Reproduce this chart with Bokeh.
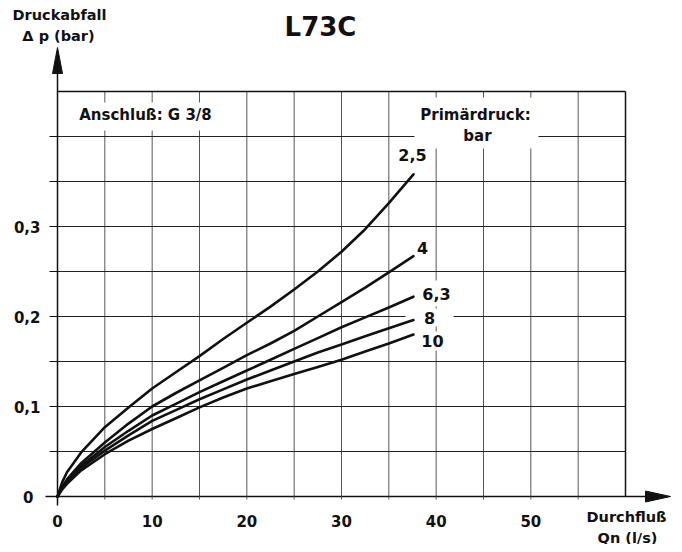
from bokeh.plotting import figure
from bokeh.models import Range1d
from bokeh.core.properties import value
from bokeh.embed import file_html
from bokeh.resources import INLINE

# ---------------- data ----------------
flow = [0, 0.5, 1, 2.5, 5, 7.5, 10, 12.5, 15, 17.5, 20, 22.5, 25, 27.5, 30, 32.5, 35, 37.6]
dp_2_5 = [0, 0.016, 0.027, 0.049, 0.077, 0.099, 0.120, 0.138, 0.156, 0.175, 0.193, 0.211, 0.230, 0.250, 0.272, 0.297, 0.326, 0.358]
dp_4   = [0, 0.011, 0.019, 0.037, 0.060, 0.081, 0.100, 0.115, 0.129, 0.143, 0.157, 0.170, 0.184, 0.200, 0.216, 0.232, 0.249, 0.267]
dp_6_3 = [0, 0.010, 0.017, 0.034, 0.055, 0.073, 0.090, 0.103, 0.116, 0.128, 0.140, 0.152, 0.164, 0.176, 0.188, 0.199, 0.210, 0.222]
dp_8   = [0, 0.009, 0.016, 0.032, 0.051, 0.068, 0.084, 0.096, 0.108, 0.119, 0.130, 0.140, 0.150, 0.160, 0.169, 0.178, 0.187, 0.196]
dp_10  = [0, 0.008, 0.014, 0.029, 0.047, 0.062, 0.075, 0.087, 0.099, 0.110, 0.120, 0.128, 0.136, 0.144, 0.152, 0.161, 0.170, 0.180]
series_names = ["2,5", "4", "6,3", "8", "10"]
series_values = [dp_2_5, dp_4, dp_6_3, dp_8, dp_10]

x_ticks = [0, 5, 10, 15, 20, 25, 30, 35, 40, 45, 50, 55, 60]
x_tick_labels = ["0", "", "10", "", "20", "", "30", "", "40", "", "50", "", ""]
y_ticks = [0, 0.05, 0.1, 0.15, 0.2, 0.25, 0.3, 0.35, 0.4, 0.45]
y_tick_labels = ["0", "", "0,1", "", "0,2", "", "0,3", "", "", ""]

title_text = "L73C"
y_title = ["Druckabfall", "\u0394 p (bar)"]
x_title = ["Durchflu\u00df", "Qn (l/s)"]
note_text = "Anschlu\u00df: G 3/8"
legend_title = ["Prim\u00e4rdruck:", "bar"]

# ---------------- layout ----------------
FONT = "DejaVu Sans"
INK = "#111111"
W, H = 674, 544
X0, X1 = 0, 60
Y0, Y1 = 0, 0.45
FL, FR, FT, FB = 57, 625, 91, 496  # plot box in page pixels
sx = (FR - FL) / (X1 - X0)
sy = (FB - FT) / (Y1 - Y0)

def dx(px):
    return X0 + (px - FL) / sx

def dy(py):
    return Y0 + (FB - py) / sy

p = figure(width=W, height=H, x_range=Range1d(dx(0), dx(W)), y_range=Range1d(dy(H), dy(0)),
           output_backend="svg", toolbar_location=None,
           x_axis_location=None, y_axis_location=None,
           min_border=0, min_border_left=0, min_border_right=0,
           min_border_top=0, min_border_bottom=0)
p.outline_line_color = None
p.background_fill_color = "white"
p.border_fill_color = "white"
p.grid.visible = False

# grid
inner_x = [t for t in x_ticks if X0 < t < X1]
inner_y = [t for t in y_ticks if Y0 < t < Y1]
p.segment(x0=inner_x, y0=[Y0] * len(inner_x), x1=inner_x, y1=[Y1] * len(inner_x),
          line_color="#555555", line_width=1)
p.segment(x0=[X0] * len(inner_y), y0=inner_y, x1=[X1] * len(inner_y), y1=inner_y,
          line_color="#222222", line_width=1)

# white boxes interrupting the grid (page pixels: left, right, top, bottom)
boxes = [(75, 222, 102, 130), (414, 538, 97, 148),
         (396, 428, 143, 165), (414, 431, 237, 258), (420, 452, 280, 306),
         (405, 453, 308, 326), (418, 446, 331, 350)]
p.quad(left=[dx(b[0]) for b in boxes], right=[dx(b[1]) for b in boxes],
       top=[dy(b[2]) for b in boxes], bottom=[dy(b[3]) for b in boxes],
       fill_color="white", line_color=None)

# frame (top / right)
p.segment(x0=[X0, X1], y0=[Y1, Y1], x1=[X1, X1], y1=[Y1, Y0], line_color=INK, line_width=1.5)

# axes lines
p.segment(x0=[X0], y0=[Y0], x1=[X0], y1=[dy(62)], line_color=INK, line_width=1.5)
p.segment(x0=[dx(45)], y0=[Y0], x1=[dx(655)], y1=[Y0], line_color=INK, line_width=1.5)
# arrow heads
p.patch(x=[X0, dx(FL - 5), dx(FL + 5)], y=[dy(47), dy(73), dy(73)],
        fill_color=INK, line_color=INK, line_width=1)
p.patch(x=[dx(670), dx(645), dx(645)], y=[Y0, dy(FB - 5.5), dy(FB + 5.5)],
        fill_color=INK, line_color=INK, line_width=1)

# ticks
y_tick_pos = [t for t in y_ticks if Y0 < t < 0.41]
p.segment(x0=[dx(49)] * len(y_tick_pos), y0=y_tick_pos, x1=[X0] * len(y_tick_pos), y1=y_tick_pos,
          line_color=INK, line_width=1.2)
p.segment(x0=x_ticks[:-1], y0=[Y0] * (len(x_ticks) - 1), x1=x_ticks[:-1],
          y1=[dy(500)] + [dy(499)] * (len(x_ticks) - 2),
          line_color="#555555", line_width=1)
p.segment(x0=[X0], y0=[Y0], x1=[X0], y1=[dy(505)], line_color=INK, line_width=1.5)

# tick labels
xl = [(t, s) for t, s in zip(x_ticks, x_tick_labels) if s]
p.text(x=[t for t, s in xl], y=[dy(520)] * len(xl), text=[s for t, s in xl],
       text_font=value(FONT), text_font_style="bold", text_font_size="15px",
       text_color=INK, text_align="center", text_baseline="middle")
yl = [(t, s) for t, s in zip(y_ticks, y_tick_labels) if s]
p.text(x=[dx(33) if s == "0" else dx(40) for t, s in yl], y=[t for t, s in yl],
       text=[s for t, s in yl],
       text_font=value(FONT), text_font_style="bold", text_font_size="15px",
       text_color=INK, text_align="right", text_baseline="middle")

# curves
for vals in series_values:
    p.line(flow, vals, line_color=INK, line_width=2.6, line_join="round", line_cap="round")

# curve labels
label_px = [(412, 154), (422, 247), (436, 293), (429, 317), (432, 340)]
p.text(x=[dx(a) for a, b in label_px], y=[dy(b) for a, b in label_px], text=series_names,
       text_font=value(FONT), text_font_style="bold", text_font_size="16px",
       text_color=INK, text_align="center", text_baseline="middle")

def txt(px, py, s, size="15px"):
    p.text(x=[dx(px)], y=[dy(py)], text=[s], text_font=value(FONT), text_font_style="bold",
           text_font_size=size, text_color=INK, text_align="center", text_baseline="middle")

txt(145, 114, note_text)
txt(475, 114, legend_title[0])
txt(477, 135, legend_title[1])
txt(320, 26, title_text, size="26px")
txt(59, 14, y_title[0], size="14.5px")
txt(58, 35, y_title[1], size="14.5px")
txt(626, 516, x_title[0], size="14.5px")
txt(627, 537, x_title[1], size="14.5px")

open("out.html", "w").write(file_html(p, INLINE))
